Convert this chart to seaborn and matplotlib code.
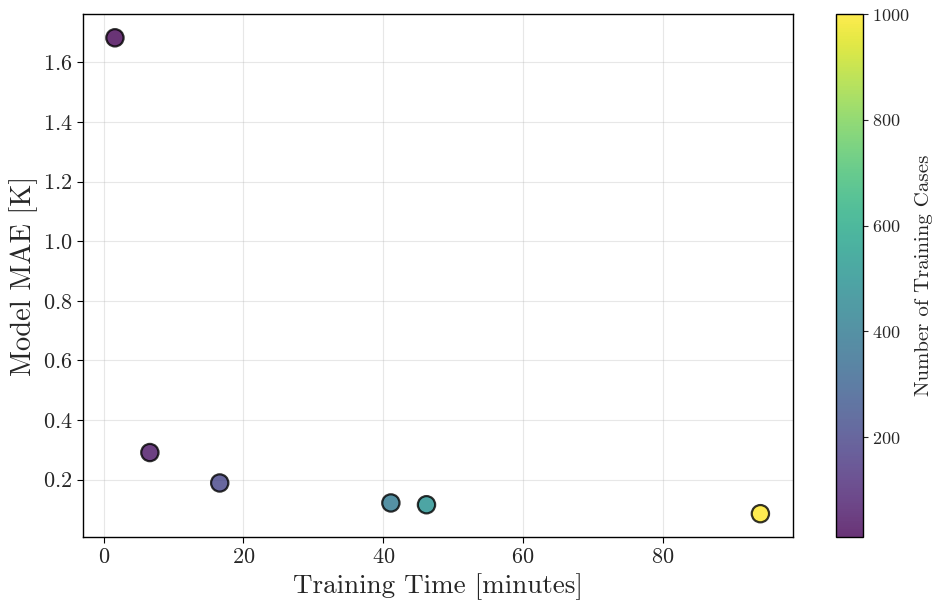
import numpy as np
import pandas as pd
import matplotlib
matplotlib.use("Agg")
import matplotlib.pyplot as plt
import seaborn as sns
from matplotlib.cm import ScalarMappable
from matplotlib.colors import Normalize

# Training runs: wall time, resulting model error, and dataset size
training_minutes = [1.6, 6.6, 16.6, 41.1, 46.2, 94.0]
model_mae = [1.682, 0.291, 0.189, 0.122, 0.116, 0.086]
training_cases = [10, 50, 200, 400, 500, 1000]

df = pd.DataFrame({
    "minutes": training_minutes,
    "mae": model_mae,
    "cases": training_cases,
})

sns.set_style("ticks")
plt.rcParams["font.family"] = ["cmr10", "DejaVu Serif"]
plt.rcParams["mathtext.fontset"] = "cm"
plt.rcParams["axes.formatter.use_mathtext"] = True
plt.rcParams["axes.unicode_minus"] = False

fig = plt.figure(figsize=(9.32, 6.01), dpi=100)
ax = fig.add_axes([0.0887, 0.1057, 0.7618, 0.8710])
cax = fig.add_axes([0.897, 0.1057, 0.0287, 0.8710])

vmin, vmax = min(training_cases), max(training_cases)
norm = Normalize(vmin=vmin, vmax=vmax)

sns.scatterplot(
    data=df, x="minutes", y="mae", hue="cases",
    palette="viridis", hue_norm=norm, legend=False,
    s=155, alpha=0.8, edgecolor="black", linewidth=1.6, ax=ax, zorder=3,
)

ax.grid(True, color="#b0b0b0", alpha=0.3, linewidth=0.8)
ax.set_axisbelow(True)
for sp in ax.spines.values():
    sp.set_visible(True)
    sp.set_color("black")
    sp.set_linewidth(1.0)

ax.set_xlabel("Training Time [minutes]", fontsize=19.5)
ax.set_ylabel("Model MAE [K]", fontsize=20.5, labelpad=3)
ax.tick_params(axis="both", labelsize=16, direction="out", length=4, color="black")
ax.set_xticks([0, 20, 40, 60, 80])
ax.set_yticks([0.2, 0.4, 0.6, 0.8, 1.0, 1.2, 1.4, 1.6])

sm = ScalarMappable(norm=norm, cmap="viridis")
cbar = fig.colorbar(sm, cax=cax, alpha=0.8)
cbar.set_label("Number of Training Cases", fontsize=15)
cbar.ax.tick_params(labelsize=13)
cbar.outline.set_edgecolor("black")
cbar.outline.set_linewidth(1.0)

fig.savefig("out.png", dpi=100)
